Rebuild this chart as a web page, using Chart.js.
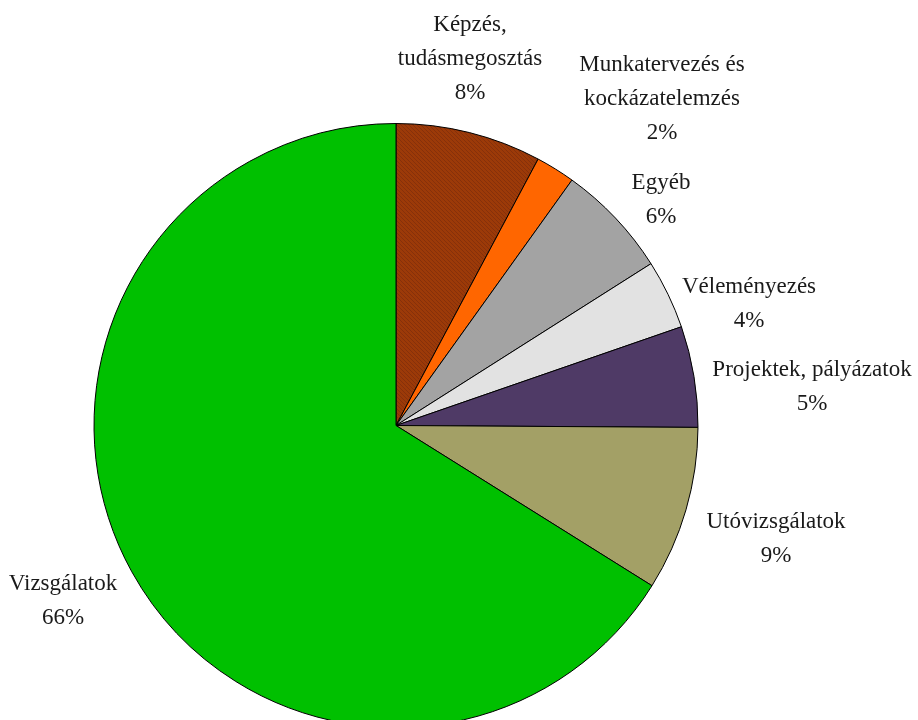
<!DOCTYPE html>
<html>
<head>
<meta charset="utf-8">
<script src="https://cdn.jsdelivr.net/npm/chart.js@4/dist/chart.umd.min.js"></script>
<style>
  html, body { margin: 0; padding: 0; background: #fff; overflow: hidden; }
  #wrap { width: 918px; height: 720px; overflow: hidden; }
</style>
</head>
<body>
<div id="wrap"><canvas id="pieChart" width="918" height="740"></canvas></div>
<script>
// adatok
const categories = [
  'Képzés,\ntudásmegosztás',
  'Munkatervezés és\nkockázatelemzés',
  'Egyéb',
  'Véleményezés',
  'Projektek, pályázatok',
  'Utóvizsgálatok',
  'Vizsgálatok',
];
const shares = [7.8, 2.1, 6.1, 3.7, 5.4, 8.8, 66.1];

// címkék helye a kör középpontjához képest (első sor közepe)
const labelAt = [
  [74, -401], [266, -361], [265, -243], [353, -139], [416, -56], [380, 96], [-333, 158],
];

// sraffozott barna minta a Képzés szelethez
function hatch() {
  const c = document.createElement('canvas');
  c.width = 4; c.height = 4;
  const g = c.getContext('2d');
  g.fillStyle = '#9c3a08';
  g.fillRect(0, 0, 4, 4);
  g.fillStyle = '#86300a';
  g.fillRect(0, 0, 1, 1);
  g.fillRect(1, 1, 1, 1);
  g.fillRect(2, 2, 1, 1);
  g.fillRect(3, 3, 1, 1);
  return g.createPattern(c, 'repeat');
}

const sliceColors = [hatch(), '#ff6600', '#a3a3a3', '#e2e2e2', '#4f3a66', '#a3a066', '#00c000'];

const outsideLabels = {
  id: 'outsideLabels',
  afterDatasetsDraw(chart) {
    const ctx = chart.ctx;
    const arcs = chart.getDatasetMeta(0).data;
    ctx.save();
    ctx.font = '23px "Liberation Serif", "Times New Roman", serif';
    ctx.fillStyle = '#1a1a1a';
    ctx.textAlign = 'center';
    ctx.textBaseline = 'middle';
    arcs.forEach((arc, i) => {
      const lines = categories[i].split('\n').concat(Math.round(shares[i]) + '%');
      const x = arc.x + labelAt[i][0];
      let y = arc.y + labelAt[i][1];
      lines.forEach((t) => {
        ctx.fillText(t, x, y);
        y += 34;
      });
    });
    ctx.restore();
  },
};

const config = {
  type: 'pie',
  data: {
    labels: categories,
    datasets: [
      {
        data: shares,
        backgroundColor: sliceColors,
        borderColor: '#000',
        borderWidth: 1,
      },
    ],
  },
  options: {
    responsive: false,
    animation: false,
    layout: { padding: { top: 123, left: 93, right: 219, bottom: 12 } },
    plugins: {
      legend: { display: false },
      tooltip: { enabled: false },
    },
  },
  plugins: [outsideLabels],
};

new Chart(document.getElementById('pieChart'), config);
</script>
</body>
</html>
